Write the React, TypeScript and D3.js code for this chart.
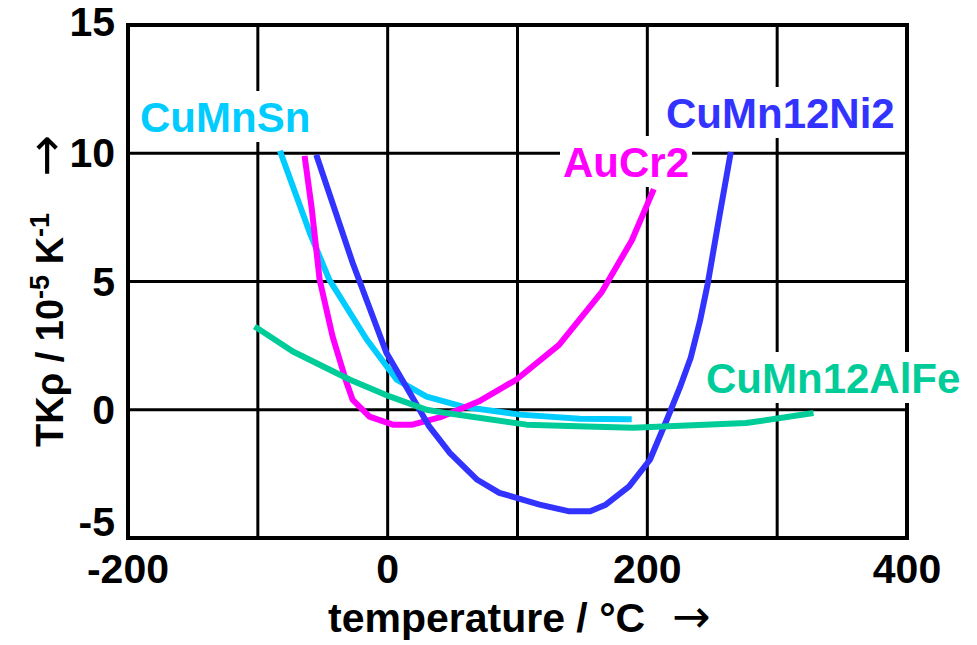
import React, { useRef, useEffect } from 'react';
import * as d3 from 'd3';

// temperature in °C, TKρ in 10^-5 K^-1
const cuMnSnT = [-83, -60, -45, -16, 7, 30, 58, 102, 148, 188];
const cuMnSnV = [10.1, 6.9, 5.07, 2.73, 1.17, 0.51, 0.12, -0.19, -0.35, -0.37];

const auCr2T = [-64, -58.6, -52.4, -42.4, -31.6, -27, -14, 4, 19, 40, 70, 99, 132, 165, 188, 205];
const auCr2V = [9.9, 7.9, 5.07, 2.85, 1.05, 0.39, -0.27, -0.58, -0.58, -0.3, 0.32, 1.17, 2.53, 4.6, 6.6, 8.6];

const cuMn12Ni2T = [-55, -27, -1, 17, 32, 48, 69, 86, 117, 140, 156, 168, 186, 202, 215, 225, 233.4, 240.4, 246.5, 255, 264.3];
const cuMn12Ni2V = [9.94, 5.73, 2.22, 0.66, -0.65, -1.69, -2.73, -3.24, -3.7, -3.96, -3.96, -3.7, -2.99, -1.95, -0.39, 0.86, 2.03, 3.43, 4.91, 7.4, 10.05];

const cuMn12AlFeT = [-102.5, -73, -29, 1.5, 30, 45, 107, 153, 189, 276, 328];
const cuMn12AlFeV = [3.25, 2.27, 1.17, 0.52, 0, -0.13, -0.58, -0.65, -0.7, -0.52, -0.13];

const xGrid = [-200, -100, 0, 100, 200, 300, 400];
const xTickLabels = [-200, 0, 200, 400];
const yGrid = [-5, 0, 5, 10, 15];

const series = [
  { name: 'CuMnSn', t: cuMnSnT, v: cuMnSnV, color: '#00CCFF', lx: 140, ly: 132 },
  { name: 'AuCr2', t: auCr2T, v: auCr2V, color: '#FF00FF', lx: 563, ly: 177 },
  { name: 'CuMn12Ni2', t: cuMn12Ni2T, v: cuMn12Ni2V, color: '#3333FF', lx: 666, ly: 128 },
  { name: 'CuMn12AlFe', t: cuMn12AlFeT, v: cuMn12AlFeV, color: '#00CC99', lx: 706, ly: 393 },
];

const W = 977;
const H = 645;
const FONT = '"Liberation Sans", Arial, sans-serif';
const ARROW_FONT = '"DejaVu Sans", sans-serif';

const App = () => {
  const ref = useRef<SVGSVGElement>(null);

  useEffect(() => {
    const svg = d3.select(ref.current);
    svg.selectAll('*').remove();

    const x = d3.scaleLinear().domain([-200, 400]).range([128, 907]);
    const y = d3.scaleLinear().domain([-5, 15]).range([538, 25]);

    // сетка
    const grid = svg.append('g');
    xGrid.forEach(t => {
      grid.append('line')
        .attr('x1', x(t)).attr('x2', x(t))
        .attr('y1', y(15)).attr('y2', y(-5))
        .attr('stroke', '#000').attr('stroke-width', t === -200 || t === 400 ? 4 : 3);
    });
    yGrid.forEach(v => {
      grid.append('line')
        .attr('x1', x(-200) - 2).attr('x2', x(400) + 2)
        .attr('y1', y(v)).attr('y2', y(v))
        .attr('stroke', '#000').attr('stroke-width', v === -5 || v === 15 ? 4 : 3);
    });

    // tick labels (bottom one sits above its line, as in the original)
    svg.append('g').selectAll('text')
      .data(yGrid)
      .enter().append('text')
      .attr('x', 115)
      .attr('y', d => y(d) + (d === -5 ? -2 : d === 15 ? 11 : 14))
      .attr('text-anchor', 'end')
      .attr('font-family', FONT)
      .attr('font-weight', 'bold')
      .attr('font-size', 41)
      .text(d => d);

    svg.append('g').selectAll('text')
      .data(xTickLabels)
      .enter().append('text')
      .attr('x', d => x(d))
      .attr('y', 583)
      .attr('text-anchor', 'middle')
      .attr('font-family', FONT)
      .attr('font-weight', 'bold')
      .attr('font-size', 41)
      .text(d => d);

    // axis titles
    const xt = svg.append('text')
      .attr('x', 328).attr('y', 632)
      .attr('font-family', FONT).attr('font-weight', 'bold').attr('font-size', 41);
    xt.append('tspan').text('temperature / °C');
    xt.append('tspan')
      .attr('dx', 27)
      .attr('font-family', ARROW_FONT).attr('font-weight', 'normal').attr('font-size', 46)
      .text('→');

    const yt = svg.append('text')
      .attr('transform', 'translate(63, 447) rotate(-90)')
      .attr('x', 0).attr('y', 0)
      .attr('font-family', FONT).attr('font-weight', 'bold').attr('font-size', 38)
      .attr('xml:space', 'preserve');
    yt.append('tspan').text('TKρ / 10');
    yt.append('tspan').attr('font-size', 27).attr('dy', -14).text('-5');
    yt.append('tspan').attr('dy', 14).text(' K');
    yt.append('tspan').attr('font-size', 27).attr('dy', -14).text('-1');
    yt.append('tspan')
      .attr('dy', 14).attr('dx', 36)
      .attr('font-family', ARROW_FONT).attr('font-weight', 'normal').attr('font-size', 50)
      .text('→');

    // labels with white background, which break the grid lines
    series.forEach(s => {
      const g = svg.append('g');
      const rect = g.append('rect').attr('fill', '#fff');
      const txt = g.append('text')
        .attr('x', s.lx).attr('y', s.ly)
        .attr('font-family', FONT).attr('font-weight', 'bold').attr('font-size', 42)
        .attr('fill', s.color)
        .text(s.name);
      const bb = (txt.node() as SVGTextElement).getBBox();
      rect.attr('x', bb.x - 3).attr('y', bb.y - 3)
        .attr('width', bb.width + 6).attr('height', bb.height + 4);
    });

    // curves
    const line = d3.line<[number, number]>()
      .x(d => x(d[0]))
      .y(d => y(d[1]));

    series.forEach(s => {
      const pts: [number, number][] = s.t.map((t, i) => [t, s.v[i]]);
      svg.append('path')
        .datum(pts)
        .attr('fill', 'none')
        .attr('stroke', s.color)
        .attr('stroke-width', 6)
        .attr('stroke-linejoin', 'round')
        .attr('d', line);
    });
  }, []);

  return (
    <svg
      ref={ref}
      width={W}
      height={H}
      style={{ position: 'absolute', left: 0, top: 0, background: '#fff' }}
    />
  );
};

export default App;
